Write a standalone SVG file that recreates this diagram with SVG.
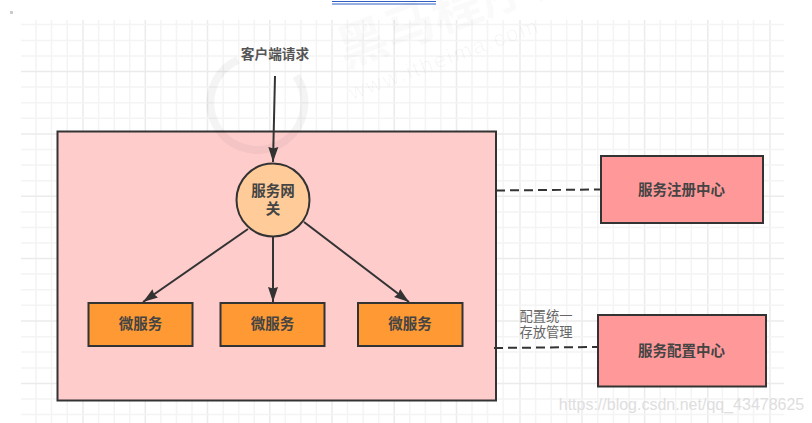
<svg xmlns="http://www.w3.org/2000/svg" width="812" height="423" viewBox="0 0 812 423">
<style>
text{font-family:"Liberation Sans","Noto Sans CJK SC",sans-serif;text-anchor:middle;fill:#444}
.b{font-weight:700;font-size:14.500px}
.n{font-size:13.700px}
.s{font-size:13.300px;fill:#666}
.box{stroke:#333;stroke-width:2}
.l{fill:none;stroke:#333;stroke-width:2}
.d{fill:none;stroke:#333;stroke-width:2;stroke-dasharray:9 5}
.g{stroke:#f4f4f4;stroke-width:1.500;fill:none}
.G{stroke:#ebebeb;stroke-width:1.500;fill:none}
</style>
<defs>
<marker id="a" markerUnits="userSpaceOnUse" markerWidth="16" markerHeight="12" refX="15" refY="5.500" orient="auto"><path d="M0 0.500L15 5.500L0 10.500L1.500 5.500Z" fill="#333"/></marker>
</defs>
<rect width="812" height="423" fill="#fff"/>
<g id="top-rule"><path d="M332 1.500H436M332 4H436" stroke="#2f5fc4" stroke-width="1" fill="none"/></g>
<rect x="10" y="11" width="3" height="3" fill="#ccc"/>
<g id="grid">
<path class="g" d="M36 20V423M51.500 20V423M67.200 20V423M98.600 20V423M114.200 20V423M129.700 20V423M160.900 20V423M176.500 20V423M192 20V423M223.100 20V423M238.700 20V423M254.200 20V423M285.300 20V423M300.900 20V423M316.400 20V423M347.500 20V423M363.100 20V423M378.700 20V423M409.800 20V423M425.400 20V423M440.900 20V423M472 20V423M487.500 20V423M503.100 20V423M535.600 20V423M551.200 20V423M566.700 20V423M597.800 20V423M613.400 20V423M629 20V423M660.200 20V423M675.700 20V423M691.300 20V423M722.400 20V423M738 20V423M753.500 20V423"/>
<path class="G" d="M83 20V423M145.300 20V423M207.500 20V423M269.800 20V423M332 20V423M394.200 20V423M456.500 20V423M520 20V423M582 20V423M644.600 20V423M707.800 20V423M770 20V423"/>
<path class="g" d="M21 24.500H784M21 40.500H784M21 56H784M21 87H784M21 102.700H784M21 118.200H784M21 149.500H784M21 165H784M21 180.700H784M21 212H784M21 227.500H784M21 243H784M21 274H784M21 289.700H784M21 305.200H784M21 336.700H784M21 352H784M21 368H784M21 399H784M21 414.500H784"/>
<path class="G" d="M21 71.500H784M21 134H784M21 196.300H784M21 258.600H784M21 321H784M21 383.600H784"/>
</g>
<g id="region"><rect x="57.500" y="131.500" width="438.500" height="269" fill="#ffcccc" class="box"/></g>
<g id="client-label"><text class="n" x="275" y="59" style="font-weight:700;fill:#555">客户端请求</text></g>
<g id="gateway"><circle cx="273" cy="200" r="36.500" fill="#ffcc99" class="box"/><text class="b" x="273" y="196">服务网</text><text class="b" x="273" y="214">关</text></g>
<g id="ms1"><rect x="88.500" y="303" width="104" height="43" fill="#ff9933" class="box"/><text class="b" x="140.500" y="329">微服务</text></g>
<g id="ms2"><rect x="220.500" y="303" width="104" height="43" fill="#ff9933" class="box"/><text class="b" x="272.500" y="329">微服务</text></g>
<g id="ms3"><rect x="358" y="303" width="104.500" height="43" fill="#ff9933" class="box"/><text class="b" x="410" y="329">微服务</text></g>
<g id="registry"><rect x="601" y="156" width="162" height="67" fill="#ff9999" class="box"/><text class="b" x="681.500" y="195">服务注册中心</text></g>
<g id="config"><rect x="598" y="315" width="168" height="71.500" fill="#ff9999" class="box"/><text class="b" x="681.500" y="356">服务配置中心</text></g>
<g id="config-label"><text class="s" x="546" y="321">配置统一</text><text class="s" x="546" y="337">存放管理</text></g>
<g id="connectors">
<path class="l" d="M275 76L273 162" marker-end="url(#a)"/>
<path class="l" d="M248 229L143 302" marker-end="url(#a)"/>
<path class="l" d="M273 237V302" marker-end="url(#a)"/>
<path class="l" d="M304 222L409 302" marker-end="url(#a)"/>
<path class="d" d="M496 190.500L600 189.500"/>
<path class="d" d="M494 348L597 347"/>
</g>
<g id="watermark">
<path d="M238 60A47 47 0 1 0 296 76" fill="none" stroke="#000" stroke-opacity=".045" stroke-width="8"/>
<text x="345" y="68" transform="rotate(-20 345 68)" style="font-size:50px;font-weight:700;fill:#000;fill-opacity:.02;text-anchor:start">黑马程序员</text>
<text x="352" y="100" transform="rotate(-20 352 100)" style="font-size:22px;fill:#000;fill-opacity:.035;text-anchor:start;letter-spacing:2px">www.itheima.com</text>
</g>
<text x="681.500" y="410" style="font-size:16px;fill:#dedede">https://blog.csdn.net/qq_43478625</text>
</svg>
